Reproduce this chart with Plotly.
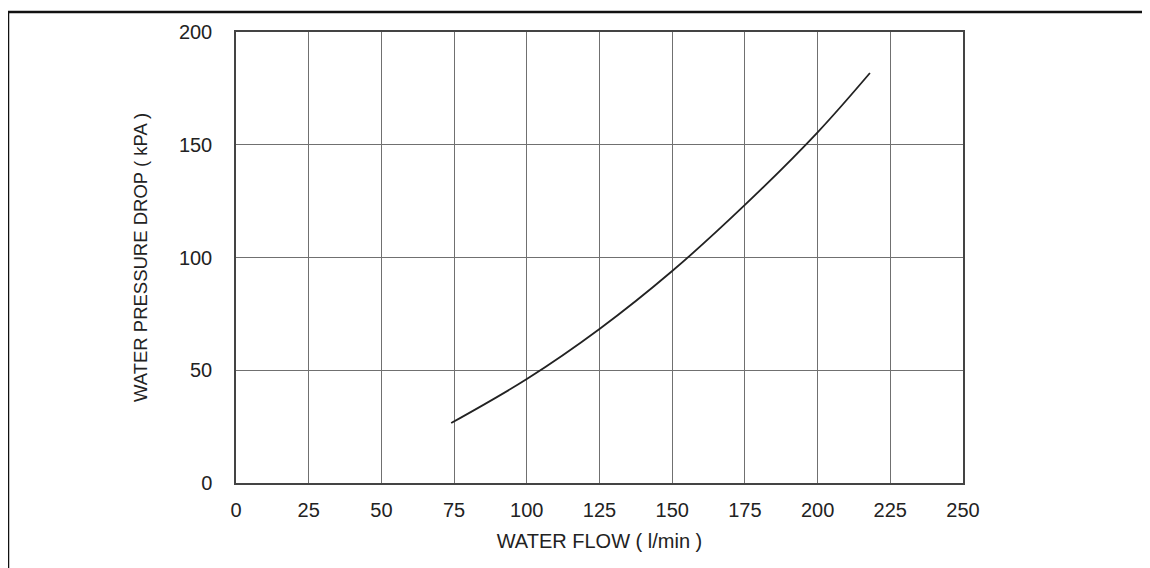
import plotly.graph_objects as go

flow = [74, 100, 125, 150, 175, 200, 218]
pressure = [26.6, 46.1, 68.3, 94, 123.3, 155.5, 181.8]

x_ticks = [0, 25, 50, 75, 100, 125, 150, 175, 200, 225, 250]
y_ticks = [0, 50, 100, 150, 200]

fig = go.Figure()
fig.add_trace(go.Scatter(x=flow, y=pressure, mode="lines",
                         line=dict(color="#222222", width=1.8, shape="spline", smoothing=1.0),
                         showlegend=False, hoverinfo="skip"))

font = dict(family="Liberation Sans, Arial, sans-serif", size=20, color="#222222")
fig.update_layout(
    width=1150, height=568,
    margin=dict(l=228, r=195, t=24, b=93),
    paper_bgcolor="white", plot_bgcolor="white",
    font=font,
    xaxis=dict(range=[0, 250], tickvals=x_ticks, showgrid=True, gridcolor="#707070", gridwidth=1,
               showline=True, linecolor="#444444", linewidth=1.5, mirror=True, zeroline=False,
               ticks="", ticklabelstandoff=8,
               title=dict(text="WATER FLOW ( l/min )", font=dict(size=20), standoff=14)),
    yaxis=dict(range=[0, 200], tickvals=y_ticks, showgrid=True, gridcolor="#707070", gridwidth=1,
               showline=True, linecolor="#444444", linewidth=1.5, mirror=True, zeroline=False,
               ticks="", ticklabelstandoff=18,
               title=dict(text="WATER PRESSURE DROP ( kPA )", font=dict(size=18.5), standoff=26)),
    shapes=[dict(type="rect", xref="paper", yref="paper",
                 x0=-228/727, x1=1.5, y0=-0.3, y1=1 + 20/451,
                 line=dict(color="#111111", width=2.5), fillcolor="rgba(0,0,0,0)", layer="above")],
)
fig.write_html("out.html")
